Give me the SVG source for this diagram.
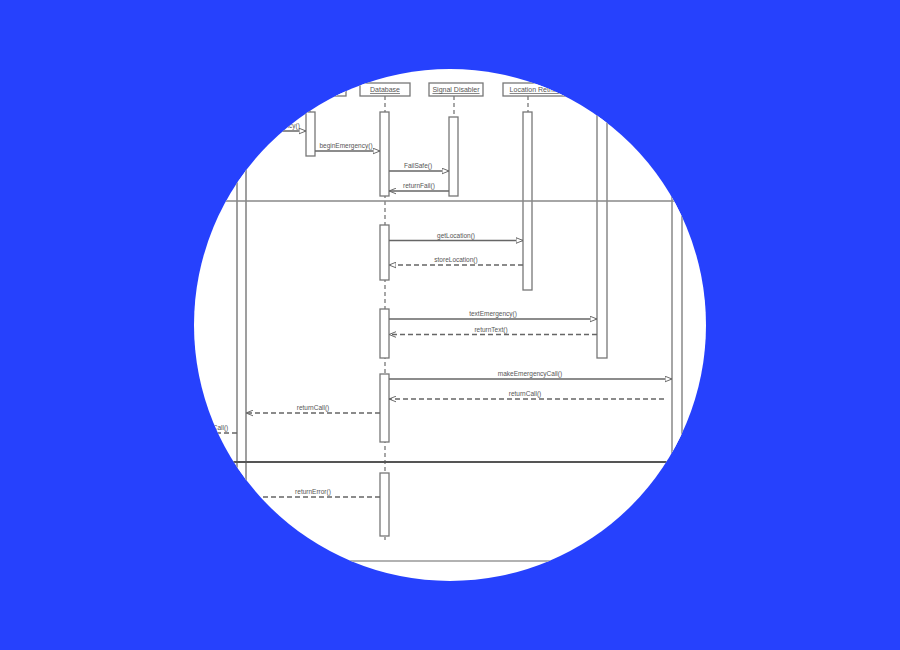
<svg xmlns="http://www.w3.org/2000/svg" width="900" height="650" viewBox="0 0 900 650">
<defs>
<clipPath id="lens"><circle cx="450" cy="325" r="256"/></clipPath>
<marker id="tri" viewBox="0 0 10 10" refX="10" refY="5" markerWidth="7" markerHeight="7" markerUnits="userSpaceOnUse" orient="auto">
<path d="M0,1 L10,5 L0,9 Z" fill="#fff" stroke="#666" stroke-width="1.4"/>
</marker>
<marker id="stick" viewBox="0 0 10 10" refX="10" refY="5" markerWidth="7" markerHeight="7" markerUnits="userSpaceOnUse" orient="auto">
<path d="M0,1 L10,5 L0,9" fill="none" stroke="#666" stroke-width="1.4"/>
</marker>
</defs>
<style>
.box{fill:#fff;stroke:#777;stroke-width:1.3}
.act{fill:#fff;stroke:#777;stroke-width:1.3}
.life{stroke:#777;stroke-width:1.3;stroke-dasharray:4,3;fill:none}
.msg{stroke:#666;stroke-width:1.3;fill:none}
.ret{stroke:#666;stroke-width:1.3;fill:none;stroke-dasharray:5,3}
.lbl{font-family:"Liberation Sans",Arial,sans-serif;font-size:6.5px;fill:#555;text-anchor:middle}
.hdr{font-family:"Liberation Sans",Arial,sans-serif;font-size:7px;fill:#555;text-anchor:middle;text-decoration:underline}
.vbar{stroke:#777;stroke-width:1.4;fill:#fff}
</style>
<rect width="900" height="650" fill="#2641fd"/>
<circle cx="450" cy="325" r="256" fill="#fff"/>
<g clip-path="url(#lens)">
<g id="left-lifeline">
<rect class="vbar" x="237" y="60" width="9" height="440"/>
</g>
<g id="caller">
<rect class="box" x="275" y="83" width="71" height="13"/>
<line class="life" x1="310" y1="96" x2="310" y2="112"/>
<rect class="act" x="306" y="112" width="9" height="44"/>
</g>
<g id="database">
<rect class="box" x="360" y="83" width="50" height="13"/>
<text class="hdr" x="385" y="92">Database</text>
<line class="life" x1="385" y1="96" x2="385" y2="540"/>
<rect class="act" x="380" y="112" width="9" height="84"/>
<rect class="act" x="380" y="225" width="9" height="55"/>
<rect class="act" x="380" y="309" width="9" height="49"/>
<rect class="act" x="380" y="374" width="9" height="68"/>
<rect class="act" x="380" y="473" width="9" height="63"/>
</g>
<g id="signal-disabler">
<rect class="box" x="429" y="83" width="54" height="13"/>
<text class="hdr" x="456" y="92">Signal Disabler</text>
<line class="life" x1="454" y1="96" x2="454" y2="117"/>
<rect class="act" x="449" y="117" width="9" height="79"/>
</g>
<g id="location-retriever">
<rect class="box" x="503" y="83" width="70" height="13"/>
<text class="hdr" x="538" y="92">Location Retriever</text>
<line class="life" x1="528" y1="96" x2="528" y2="112"/>
<rect class="act" x="523" y="112" width="9" height="178"/>
</g>
<g id="text-service">
<rect class="act" x="597" y="60" width="10" height="298"/>
</g>
<g id="emergency-service">
<rect class="act" x="672" y="60" width="10" height="420"/>
</g>
<g id="frame">
<line x1="150" y1="201" x2="750" y2="201" stroke="#888" stroke-width="1.6"/>
<line x1="150" y1="462" x2="750" y2="462" stroke="#555" stroke-width="2"/>
<line x1="150" y1="561" x2="750" y2="561" stroke="#999" stroke-width="1.6"/>
</g>
<g id="connectors">
<line class="msg" x1="200" y1="131" x2="306" y2="131" marker-end="url(#tri)"/>
<text class="lbl" x="275" y="128">startEmergency()</text>
<line class="msg" x1="315" y1="151" x2="380" y2="151" marker-end="url(#tri)"/>
<text class="lbl" x="346" y="148">beginEmergency()</text>
<line class="msg" x1="389" y1="171" x2="449" y2="171" marker-end="url(#tri)"/>
<text class="lbl" x="418" y="168">FailSafe()</text>
<line class="msg" x1="449" y1="191" x2="389" y2="191" marker-end="url(#stick)"/>
<text class="lbl" x="419" y="188">returnFail()</text>
<line class="msg" x1="389" y1="240.5" x2="523" y2="240.5" marker-end="url(#tri)"/>
<text class="lbl" x="456" y="237.5">getLocation()</text>
<line class="ret" x1="523" y1="265" x2="389" y2="265" marker-end="url(#tri)"/>
<text class="lbl" x="456" y="262">storeLocation()</text>
<line class="msg" x1="389" y1="319" x2="597" y2="319" marker-end="url(#tri)"/>
<text class="lbl" x="493" y="316">textEmergency()</text>
<line class="ret" x1="597" y1="334.5" x2="389" y2="334.5" marker-end="url(#stick)"/>
<text class="lbl" x="491" y="331.5">returnText()</text>
<line class="msg" x1="389" y1="379" x2="672" y2="379" marker-end="url(#tri)"/>
<text class="lbl" x="530" y="376">makeEmergencyCall()</text>
<line class="ret" x1="664" y1="399" x2="389" y2="399" marker-end="url(#stick)"/>
<text class="lbl" x="525" y="396">returnCall()</text>
<line class="ret" x1="380" y1="413" x2="246" y2="413" marker-end="url(#stick)"/>
<text class="lbl" x="313" y="410">returnCall()</text>
<line class="ret" x1="237" y1="433" x2="150" y2="433" marker-end="url(#stick)"/>
<text class="lbl" x="212" y="430">returnCall()</text>
<line class="ret" x1="380" y1="497" x2="246" y2="497" marker-end="url(#stick)"/>
<text class="lbl" x="313" y="494">returnError()</text>
</g>
</g>
</svg>
